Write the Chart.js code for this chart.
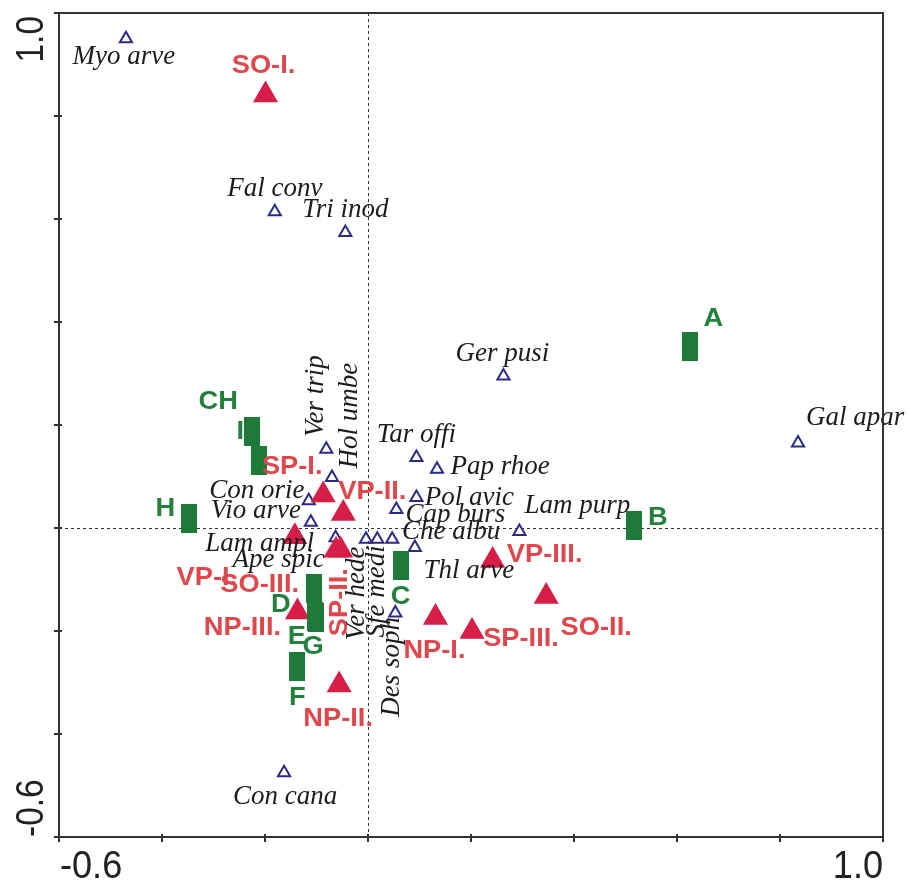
<!DOCTYPE html>
<html>
<head>
<meta charset="utf-8">
<script src="https://cdn.jsdelivr.net/npm/chart.js@4.4.1/dist/chart.umd.min.js"></script>
<style>
html,body{margin:0;padding:0;background:#fff;}
canvas{display:block;}
</style>
</head>
<body>
<canvas id="c" width="909" height="881"></canvas>
<script>
// ---------- DATA ----------
const speciesNames = ['Myo arve','Fal conv','Tri inod','Ger pusi','Gal apar','Ver trip','Hol umbe','Con orie','Vio arve','Lam ampl','Ape spic','Ver hede','Sfe medi','Che albu','Cap burs','Pol avic','Tar offi','Pap rhoe','Lam purp','Thl arve','Des soph','Con cana'];
const speciesX = [-0.470,-0.181,-0.044,0.263,0.835,-0.081,-0.070,-0.115,-0.111,-0.063,-0.059,-0.004,0.018,0.047,0.055,0.094,0.094,0.134,0.294,0.091,0.053,-0.163];
const speciesY = [0.950,0.614,0.574,0.295,0.165,0.153,0.098,0.053,0.011,-0.019,-0.045,-0.022,-0.022,-0.022,0.036,0.059,0.137,0.114,-0.007,-0.038,-0.165,-0.475];

const sampleNames = ['SO-I.','SO-II.','SO-III.','SP-I.','SP-II.','SP-III.','VP-I.','VP-II.','VP-III.','NP-I.','NP-II.','NP-III.'];
const sampleX = [-0.199,0.346,-0.053,-0.087,-0.062,0.202,-0.142,-0.048,0.242,0.131,-0.056,-0.137];
const sampleY = [0.841,-0.133,-0.043,0.064,-0.043,-0.201,-0.017,0.028,-0.063,-0.174,-0.305,-0.163];

const siteNames = ['A','B','C','D','E','F','G','H','I','CH'];
const siteX = [0.626,0.516,0.065,-0.105,-0.103,-0.137,-0.101,-0.347,-0.211,-0.225];
const siteY = [0.352,0.004,-0.073,-0.117,-0.171,-0.268,-0.174,0.019,0.131,0.187];

const xTickLabels = ['-0.6','1.0'];
const yTickLabels = ['-0.6','1.0'];
const axisMin = -0.6, axisMax = 1.0, axisStep = 0.2;

// ---------- LABEL PLACEMENT (pixel offsets from the point; layout only) ----------
// [dx, dy, rotated]
const labelPlacement = {
  'Myo arve':[-2,25],'Fal conv':[0,-16],'Tri inod':[0,-15],'Ger pusi':[-1,-15],'Gal apar':[57,-18],
  'Ver trip':[-3,-53,1],'Hol umbe':[25,-62,1],'Con orie':[-52,-3],'Vio arve':[-55,-4],
  'Lam ampl':[-76,13],'Ape spic':[-59,16],'Ver hede':[-2,54,1],'Sfe medi':[7,52,1],
  'Che albu':[59,0],'Cap burs':[59,13],'Pol avic':[53,7],'Tar offi':[0,-15],'Pap rhoe':[63,5],
  'Lam purp':[58,-19],'Thl arve':[54,30],'Des soph':[4,54,1],'Con cana':[1,31],
  'SO-I.':[-2,-22],'SO-II.':[50,39],'SO-III.':[-81,42],'SP-I.':[-31,-21],'SP-II.':[11,52,1],
  'SP-III.':[49,14],'VP-I.':[-88,48],'VP-II.':[29,-15],'VP-III.':[52,2],'NP-I.':[-1,40],
  'NP-II.':[-1,41],'NP-III.':[-55,23],
  'A':[23,-21],'B':[24,-1],'C':[-1,38],'D':[-33,24],'E':[-18,28],'F':[0,39],'G':[-3,36],
  'H':[-24,-2],'I':[-19,-22],'CH':[-34,-23]
};

const toPts = (xs, ys) => xs.map((v, i) => ({x: v, y: ys[i]}));

// rectangle marker for sites
const rectMarker = document.createElement('canvas');
rectMarker.width = 16; rectMarker.height = 29;
(function(){ const c = rectMarker.getContext('2d'); c.fillStyle = '#1f7a3a'; c.fillRect(0,0,16,29); })();

const COL_SPEC = '#2d2a87', COL_SPEC_TXT = '#1c1c1c';
const COL_SAMP = '#d61e48', COL_SAMP_TXT = '#e0474c';
const COL_SITE_TXT = '#23813d';

function drawText(ctx, text, x, y, font, color, rotated, sx) {
  ctx.save();
  ctx.font = font;
  ctx.fillStyle = color;
  ctx.textAlign = 'center';
  ctx.textBaseline = 'alphabetic';
  ctx.translate(x, y);
  if (rotated) ctx.rotate(-Math.PI / 2);
  ctx.scale(sx || 1, 1);
  ctx.fillText(text, 0, 0);
  ctx.restore();
}

const decorPlugin = {
  id: 'decor',
  beforeDatasetsDraw(chart) {
    const {ctx, chartArea: a, scales: {x, y}} = chart;
    ctx.save();
    ctx.strokeStyle = '#333';
    ctx.lineWidth = 1;
    ctx.setLineDash([3, 3]);
    const x0 = Math.round(x.getPixelForValue(0)) + 0.5;
    const y0 = Math.round(y.getPixelForValue(0)) + 0.5;
    ctx.beginPath(); ctx.moveTo(x0, a.top); ctx.lineTo(x0, a.bottom); ctx.stroke();
    ctx.beginPath(); ctx.moveTo(a.left, y0); ctx.lineTo(a.right, y0); ctx.stroke();
    ctx.restore();
  },
  afterDatasetsDraw(chart) {
    const {ctx} = chart;
    const groups = [
      {ds: 0, names: speciesNames, font: 'italic 27px "Liberation Serif"', color: COL_SPEC_TXT, sx: 1},
      {ds: 1, names: sampleNames, font: 'bold 25px "Liberation Sans"', color: COL_SAMP_TXT, sx: 1.09},
      {ds: 2, names: siteNames, font: 'bold 25px "Liberation Sans"', color: COL_SITE_TXT, sx: 1.09}
    ];
    groups.forEach(g => {
      const meta = chart.getDatasetMeta(g.ds);
      meta.data.forEach((el, i) => {
        const name = g.names[i];
        const p = labelPlacement[name] || [0, -15];
        drawText(ctx, name, el.x + p[0], el.y + p[1], g.font, g.color, !!p[2], g.sx);
      });
    });
  },
  afterDraw(chart) {
    const {ctx, chartArea: a, scales: {x, y}} = chart;
    ctx.save();
    // frame
    ctx.strokeStyle = '#333';
    ctx.lineWidth = 2;
    ctx.strokeRect(a.left, a.top, a.right - a.left, a.bottom - a.top);
    // inner tick stubs
    ctx.beginPath();
    y.ticks.forEach(t => { const py = Math.round(y.getPixelForValue(t.value)); ctx.moveTo(a.left, py); ctx.lineTo(a.left + 3, py); });
    x.ticks.forEach(t => { const px = Math.round(x.getPixelForValue(t.value)); ctx.moveTo(px, a.bottom); ctx.lineTo(px, a.bottom - 3); });
    ctx.stroke();
    // axis end labels
    ctx.fillStyle = '#222';
    ctx.font = '38px "Liberation Sans"';
    ctx.textBaseline = 'alphabetic';
    const xl = x.getPixelForValue(axisMin), xr = x.getPixelForValue(axisMax);
    ctx.save(); ctx.translate(xl + 1, a.bottom + 41); ctx.scale(0.95, 1); ctx.textAlign = 'left'; ctx.fillText(xTickLabels[0], 0, 0); ctx.restore();
    ctx.save(); ctx.translate(xr, a.bottom + 41); ctx.scale(0.95, 1); ctx.textAlign = 'right'; ctx.fillText(xTickLabels[1], 0, 0); ctx.restore();
    const yb = y.getPixelForValue(axisMin), yt = y.getPixelForValue(axisMax);
    ctx.save(); ctx.translate(a.left - 16, yb); ctx.rotate(-Math.PI/2); ctx.scale(0.88, 1); ctx.textAlign = 'left'; ctx.fillText(yTickLabels[0], 0, 0); ctx.restore();
    ctx.save(); ctx.translate(a.left - 16, yt + 3); ctx.rotate(-Math.PI/2); ctx.scale(0.88, 1); ctx.textAlign = 'right'; ctx.fillText(yTickLabels[1], 0, 0); ctx.restore();
    ctx.restore();
  }
};

const axisCommon = {
  type: 'linear', min: axisMin, max: axisMax,
  ticks: {display: false, stepSize: axisStep},
  grid: {drawOnChartArea: false, drawTicks: true, tickLength: 5, color: '#333', lineWidth: 2},
  border: {display: true, color: '#333', width: 2}
};

new Chart(document.getElementById('c'), {
  type: 'scatter',
  data: {
    datasets: [
      {label: 'species', data: toPts(speciesX, speciesY), pointStyle: 'triangle', pointRadius: 7,
       borderColor: COL_SPEC, backgroundColor: 'rgba(0,0,0,0)', borderWidth: 2, order: 3},
      {label: 'samples', data: toPts(sampleX, sampleY), pointStyle: 'triangle', pointRadius: 14.5,
       borderColor: COL_SAMP, backgroundColor: COL_SAMP, borderWidth: 0, order: 2},
      {label: 'sites', data: toPts(siteX, siteY), pointStyle: rectMarker, pointRadius: 15, order: 1}
    ]
  },
  options: {
    responsive: false,
    animation: false,
    events: [],
    layout: {autoPadding: false, padding: {left: 54, right: 26, top: 13, bottom: 39}},
    plugins: {legend: {display: false}, tooltip: {enabled: false}},
    scales: {x: axisCommon, y: axisCommon}
  },
  plugins: [decorPlugin]
});
</script>
</body>
</html>
